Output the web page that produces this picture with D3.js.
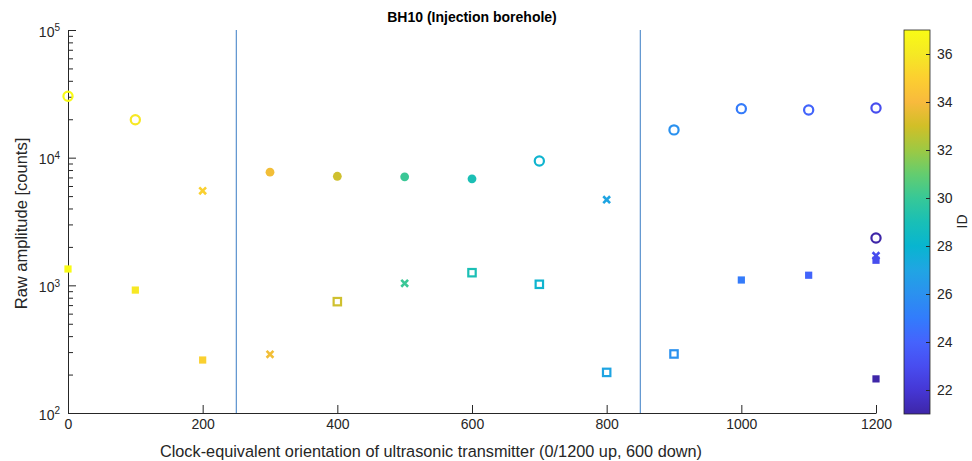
<!DOCTYPE html>
<html>
<head>
<meta charset="utf-8">
<script src="https://cdn.jsdelivr.net/npm/d3@7"></script>
<style>
  body { margin: 0; background: #fff; }
  svg { display: block; font-family: "Liberation Sans", Arial, sans-serif; }
  .axis path, .axis line { stroke: #262626; }
  .axis text { fill: #262626; font-size: 14px; }
</style>
</head>
<body>
<div id="chart"></div>
<script>
// [orientation, raw amplitude, ID]
const openCircles = [[0, 30300, 37], [100, 19800, 36], [700, 9420, 28], [900, 16500, 26],
  [1000, 24200, 25], [1100, 23600, 24], [1200, 24500, 23], [1200, 2350, 21]];
const filledCircles = [[300, 7700, 34], [400, 7150, 33], [500, 7080, 30], [600, 6830, 29]];
const crosses = [[200, 5500, 35], [300, 288, 34], [500, 1037, 30], [800, 4690, 27], [1200, 1707, 23]];
const filledSquares = [[0, 1343, 37], [100, 918, 36], [200, 260, 35], [1000, 1101, 25],
  [1100, 1200, 24], [1200, 1572, 23], [1200, 185, 21]];
const openSquares = [[400, 745, 33], [600, 1256, 29], [700, 1019, 28], [800, 208, 27], [900, 290, 26]];

const xTicks = [0, 200, 400, 600, 800, 1000, 1200];
const yTicks = [1e2, 1e3, 1e4, 1e5];
const idTicks = [22, 24, 26, 28, 30, 32, 34, 36];
const dividers = [250, 850];

// parula, sampled every 4th of 64 entries
const parula = ['#3e26a8', '#4537d5', '#484df0', '#4563fd', '#327cfc', '#2b91ef', '#20a5e3',
  '#08b5d0', '#19bfb6', '#37c897', '#64cd6f', '#9dc943', '#d1bf27', '#f8ba3d', '#fccf30',
  '#f5e924', '#f9fb15'];

const W = 972, H = 461;
const margin = {left: 68, right: 96, top: 30, bottom: 48};
const innerW = W - margin.left - margin.right;
const innerH = H - margin.top - margin.bottom;

const svg = d3.select('#chart').append('svg')
  .attr('width', W)
  .attr('height', H);

const x = d3.scaleLinear().domain([0, 1200]).range([margin.left, margin.left + innerW]);
const y = d3.scaleLog().domain([1e2, 1e5]).range([margin.top + innerH, margin.top]);
const idScale = d3.scaleLinear().domain([21, 37]).range([0, 1]);
const parulaInterp = d3.interpolateRgbBasis(parula);
const color = id => parulaInterp(idScale(id));

// title
svg.append('text')
  .attr('x', 472)
  .attr('y', 22)
  .attr('text-anchor', 'middle')
  .style('font-size', '14px')
  .style('font-weight', 'bold')
  .style('fill', '#000')
  .text('BH10 (Injection borehole)');

// x axis
svg.append('g')
  .attr('class', 'axis')
  .attr('transform', `translate(0, ${margin.top + innerH})`)
  .call(d3.axisBottom(x).tickValues(xTicks).tickFormat(d3.format('d'))
    .tickSizeInner(-8).tickSizeOuter(0).tickPadding(6));

// y axis: minor ticks first, then majors with 10^n labels
const minor = [];
[1e2, 1e3, 1e4].forEach(d => { for (let k = 2; k <= 9; k++) minor.push(d * k); });
svg.append('g')
  .attr('class', 'axis')
  .attr('transform', `translate(${margin.left}, 0)`)
  .call(d3.axisLeft(y).tickValues(minor).tickSizeInner(-5).tickSizeOuter(0).tickFormat(''));

const yAxis = svg.append('g')
  .attr('class', 'axis')
  .attr('transform', `translate(${margin.left}, 0)`)
  .call(d3.axisLeft(y).tickValues(yTicks).tickSizeInner(-8).tickSizeOuter(0).tickPadding(8).tickFormat(''));

yAxis.selectAll('.tick text').each(function (d) {
  const t = d3.select(this).attr('dy', '0.45em');
  t.append('tspan').text('10');
  t.append('tspan')
    .attr('dy', '-0.55em')
    .style('font-size', '10px')
    .text(Math.round(Math.log10(d)));
});

// axis labels
svg.append('text')
  .attr('x', 431)
  .attr('y', 457)
  .attr('text-anchor', 'middle')
  .style('font-size', '16.3px')
  .style('fill', '#262626')
  .text('Clock-equivalent orientation of ultrasonic transmitter (0/1200 up, 600 down)');

svg.append('text')
  .attr('transform', `translate(27, ${margin.top + innerH / 2 + 2}) rotate(-90)`)
  .attr('text-anchor', 'middle')
  .style('font-size', '16.5px')
  .style('fill', '#262626')
  .text('Raw amplitude [counts]');

// divider lines
svg.selectAll('.divider')
  .data(dividers)
  .enter()
  .append('line')
  .attr('class', 'divider')
  .attr('x1', d => x(d))
  .attr('x2', d => x(d))
  .attr('y1', y(1e5))
  .attr('y2', y(1e2))
  .style('stroke', '#5a92ce')
  .style('stroke-width', 1.2);

// markers
const plot = svg.append('g');

plot.selectAll('.ocirc')
  .data(openCircles)
  .enter()
  .append('circle')
  .attr('cx', d => x(d[0]))
  .attr('cy', d => y(d[1]))
  .attr('r', 4.6)
  .style('fill', 'none')
  .style('stroke', d => color(d[2]))
  .style('stroke-width', 2.2);

plot.selectAll('.fcirc')
  .data(filledCircles)
  .enter()
  .append('circle')
  .attr('cx', d => x(d[0]))
  .attr('cy', d => y(d[1]))
  .attr('r', 4.4)
  .style('fill', d => color(d[2]));

plot.selectAll('.fsq')
  .data(filledSquares)
  .enter()
  .append('rect')
  .attr('x', d => x(d[0]) - 3.6)
  .attr('y', d => y(d[1]) - 3.6)
  .attr('width', 7.2)
  .attr('height', 7.2)
  .style('fill', d => color(d[2]));

plot.selectAll('.osq')
  .data(openSquares)
  .enter()
  .append('rect')
  .attr('x', d => x(d[0]) - 3.7)
  .attr('y', d => y(d[1]) - 3.7)
  .attr('width', 7.4)
  .attr('height', 7.4)
  .style('fill', 'none')
  .style('stroke', d => color(d[2]))
  .style('stroke-width', 2.2);

plot.selectAll('.cross')
  .data(crosses)
  .enter()
  .append('path')
  .attr('transform', d => `translate(${x(d[0])}, ${y(d[1])})`)
  .attr('d', 'M-3.4,-3.4L3.4,3.4M-3.4,3.4L3.4,-3.4')
  .style('stroke', d => color(d[2]))
  .style('stroke-width', 2.6);

// colorbar
const cbX = 904, cbW = 26;
const cb = d3.scaleLinear().domain([21, 37]).range([margin.top + innerH + 1, margin.top]);

const grad = svg.append('defs').append('linearGradient')
  .attr('id', 'parula')
  .attr('x1', 0).attr('y1', 1).attr('x2', 0).attr('y2', 0);
parula.forEach((c, i) => {
  grad.append('stop')
    .attr('offset', i / (parula.length - 1))
    .attr('stop-color', c);
});

svg.append('rect')
  .attr('x', cbX)
  .attr('y', cb(37))
  .attr('width', cbW)
  .attr('height', cb(21) - cb(37))
  .style('fill', 'url(#parula)')
  .style('stroke', '#262626')
  .style('stroke-width', 0.8);

svg.append('g')
  .attr('class', 'axis')
  .attr('transform', `translate(${cbX + cbW}, 0)`)
  .call(d3.axisRight(cb).tickValues(idTicks).tickSizeInner(-4).tickSizeOuter(0).tickPadding(7))
  .call(g => g.select('.domain').remove());

svg.append('text')
  .attr('transform', `translate(967, ${margin.top + innerH / 2}) rotate(-90)`)
  .attr('text-anchor', 'middle')
  .style('font-size', '14px')
  .style('fill', '#262626')
  .text('ID');
</script>
</body>
</html>
